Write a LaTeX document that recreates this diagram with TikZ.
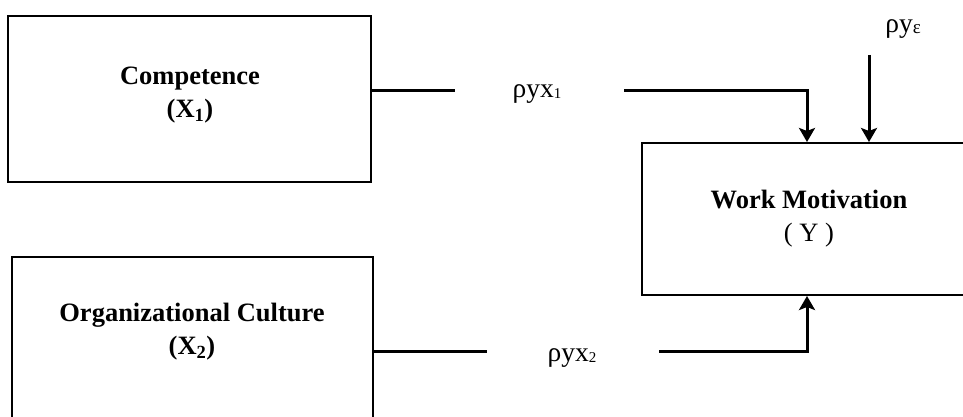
\documentclass[tikz,border=0pt]{standalone}
\usepackage{fontspec}
\setmainfont{Liberation Serif}
\usetikzlibrary{arrows.meta}
\begin{document}
\begin{tikzpicture}[x=1pt,y=-1pt,
  box/.style={draw,line width=2pt,rectangle,inner sep=0},
  title/.style={font=\fontsize{26.5}{33}\selectfont\bfseries, align=center, inner sep=0},
  coef/.style={font=\fontsize{27.5}{30}\selectfont, inner sep=0},
  conn/.style={line width=3pt},
  arr/.style={line width=3pt,-{Stealth[length=14pt,width=16pt,inset=3pt]}}]
\useasboundingbox (0,0) rectangle (963,417);
\clip (0,0) rectangle (963,417);
% boxes
\node[box, minimum width=363, minimum height=166] (c1) at (189.5,99) {};
\node[box, minimum width=361, minimum height=168] (o1) at (192.5,341) {};
\node[box, minimum width=330, minimum height=152] (wm) at (807,219) {};
% box texts
\node[title] (t1) at (190,95) {Competence\\(X\textsubscript{1})};
\node[title] (t2) at (192,332) {Organizational Culture\\(X\textsubscript{2})};
\node[title] (t3) at (809,219) {Work Motivation\\\mdseries( Y )};
% coefficient labels
\node[coef] (l1) at (537,94) {ρyx\raisebox{-1pt}{\fontsize{15}{15}\selectfont 1}};
\node[coef] (l2) at (572,358) {ρyx\raisebox{-1pt}{\fontsize{15}{15}\selectfont 2}};
\node[coef] (l3) at (903,29) {ρy\raisebox{-1pt}{\fontsize{19}{19}\selectfont ε}};
% connector ends
\coordinate (p1) at (455,91);
\coordinate (p2) at (624,91);
\coordinate (q1) at (487,351);
\coordinate (q2) at (659,351);
\coordinate (e1) at (869,55);
% connectors
\draw[conn] (c1.east |- p1) -- (p1);
\draw[arr] (p2) -| (wm.north);
\draw[conn] (o1.east |- q1) -- (q1);
\draw[arr] (q2) -| (wm.south);
\draw[arr] (e1) -- (e1 |- wm.north);
\end{tikzpicture}
\end{document}
